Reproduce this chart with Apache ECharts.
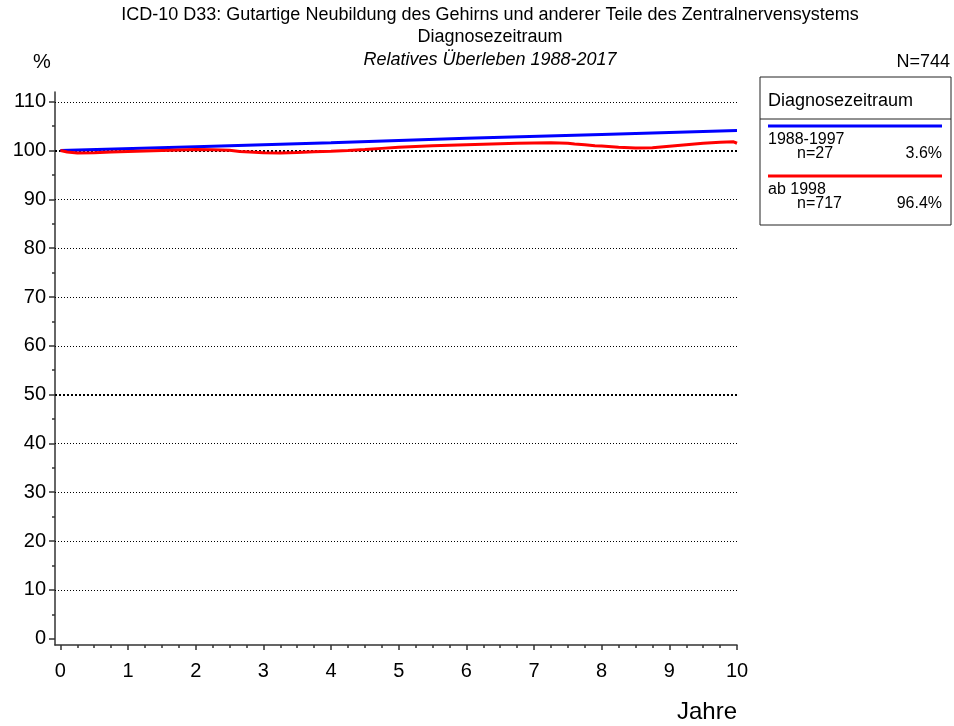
<!DOCTYPE html>
<html>
<head>
<meta charset="utf-8">
<script src="https://cdn.jsdelivr.net/npm/echarts@6/dist/echarts.min.js"></script>
<style>
  html, body { margin: 0; padding: 0; background: #fff; }
  #chart { width: 954px; height: 726px; }
</style>
</head>
<body>
<div id="chart"></div>
<script>
// years since diagnosis
const blueYears = [0, 2, 4, 6, 8, 10]
const blueValues = [100, 100.8, 101.6, 102.5, 103.3, 104.1]

const redYears = [0, 0.1, 0.25, 0.5, 0.75, 1, 1.25, 1.5, 1.75, 2, 2.25, 2.5, 2.65, 2.8, 3, 3.25, 3.5, 3.75, 4, 4.25, 4.5, 4.75, 5, 5.25, 5.5, 5.75, 6, 6.25, 6.5, 6.75, 7, 7.25, 7.5, 7.6, 7.75, 7.9, 8, 8.25, 8.5, 8.75, 9, 9.25, 9.5, 9.75, 9.95, 10]
const redValues = [100, 99.7, 99.5, 99.55, 99.7, 99.8, 99.9, 100.0, 100.1, 100.2, 100.15, 100.05, 99.8, 99.7, 99.55, 99.5, 99.6, 99.75, 99.85, 100.0, 100.2, 100.45, 100.7, 100.85, 101.0, 101.1, 101.2, 101.3, 101.4, 101.5, 101.55, 101.6, 101.5, 101.35, 101.2, 101.0, 100.95, 100.7, 100.55, 100.6, 100.9, 101.2, 101.5, 101.7, 101.8, 101.5]

const xTicks = [0, 1, 2, 3, 4, 5, 6, 7, 8, 9, 10]
const xMinorTicks = [0.25, 0.5, 0.75, 1.25, 1.5, 1.75, 2.25, 2.5, 2.75, 3.25, 3.5, 3.75, 4.25, 4.5, 4.75, 5.25, 5.5, 5.75, 6.25, 6.5, 6.75, 7.25, 7.5, 7.75, 8.25, 8.5, 8.75, 9.25, 9.5, 9.75]
const yTicks = [0, 10, 20, 30, 40, 50, 60, 70, 80, 90, 100, 110]
const yMinorTicks = [5, 15, 25, 35, 45, 55, 65, 75, 85, 95, 105]
const gridLines = [10, 20, 30, 40, 60, 70, 80, 90, 110]
const boldGridLines = [50, 100]

const legendItems = [
  { name: '1988-1997', n: 'n=27', pct: '3.6%', color: '#0000ff' },
  { name: 'ab 1998', n: 'n=717', pct: '96.4%', color: '#ff0000' }
]

const font = '"Liberation Sans", Arial, sans-serif'
const chart = echarts.init(document.getElementById('chart'))

const xMin = -0.08
const xMax = 10
const yMin = -1.3
const yMax = 112

function legendGraphics() {
  const left = 760
  const top = 77
  const w = 191
  const h = 148
  const els = [
    { type: 'rect', shape: { x: left, y: top, width: w, height: h }, style: { fill: '#fff', stroke: '#222', lineWidth: 1 } },
    { type: 'line', shape: { x1: left, y1: 119, x2: left + w, y2: 119 }, style: { stroke: '#222', lineWidth: 1 } },
    { type: 'text', x: 768, y: 101, style: { text: 'Diagnosezeitraum', font: '18px ' + font, fill: '#000', verticalAlign: 'middle' } }
  ]
  legendItems.forEach((it, i) => {
    const y0 = 126 + i * 50
    els.push({ type: 'line', shape: { x1: 768, y1: y0, x2: 942, y2: y0 }, style: { stroke: it.color, lineWidth: 3 } })
    els.push({ type: 'text', x: 768, y: y0 + 14, style: { text: it.name, font: '16px ' + font, fill: '#000', verticalAlign: 'middle' } })
    els.push({ type: 'text', x: 797, y: y0 + 28, style: { text: it.n, font: '16px ' + font, fill: '#000', verticalAlign: 'middle' } })
    els.push({ type: 'text', x: 942, y: y0 + 28, style: { text: it.pct, font: '16px ' + font, fill: '#000', align: 'right', verticalAlign: 'middle' } })
  })
  return els
}

const markLineData = gridLines.map(v => ({ yAxis: v, lineStyle: { type: [1, 2], width: 1 } }))
  .concat(boldGridLines.map(v => ({ yAxis: v, lineStyle: { type: [2, 2], width: 2 } })))

chart.setOption({
  animation: false,
  grid: { left: 55, right: 217, top: 92, bottom: 81 },
  xAxis: [{
    type: 'value',
    min: xMin,
    max: xMax,
    axisLine: { onZero: false, lineStyle: { color: '#333', width: 1.5 } },
    axisTick: { length: 5, customValues: xTicks, lineStyle: { color: '#333', width: 1.5 } },
    axisLabel: { customValues: xTicks, color: '#000', fontSize: 20, fontFamily: font, margin: 16 },
    splitLine: { show: false }
  }, {
    type: 'value',
    position: 'bottom',
    min: xMin,
    max: xMax,
    axisLine: { show: false, onZero: false },
    axisTick: { length: 3, customValues: xMinorTicks, lineStyle: { color: '#333', width: 1.5 } },
    axisLabel: { show: false },
    splitLine: { show: false }
  }],
  yAxis: [{
    type: 'value',
    min: yMin,
    max: yMax,
    axisLine: { show: true, onZero: false, lineStyle: { color: '#333', width: 1.5 } },
    axisTick: { show: true, length: 6, customValues: yTicks, lineStyle: { color: '#333', width: 1.5 } },
    axisLabel: { customValues: yTicks, color: '#000', fontSize: 20, fontFamily: font, margin: 9 },
    splitLine: { show: false }
  }, {
    type: 'value',
    position: 'left',
    min: yMin,
    max: yMax,
    axisLine: { show: false, onZero: false },
    axisTick: { show: true, length: 3, customValues: yMinorTicks, lineStyle: { color: '#333', width: 1.5 } },
    axisLabel: { show: false },
    splitLine: { show: false }
  }],
  graphic: [
    { type: 'text', x: 490, y: 15, style: { text: 'ICD-10 D33: Gutartige Neubildung des Gehirns und anderer Teile des Zentralnervensystems', font: '18px ' + font, fill: '#000', align: 'center', verticalAlign: 'middle' } },
    { type: 'text', x: 490, y: 37, style: { text: 'Diagnosezeitraum', font: '18px ' + font, fill: '#000', align: 'center', verticalAlign: 'middle' } },
    { type: 'text', x: 490, y: 60, style: { text: 'Relatives Überleben 1988-2017', font: 'italic 18px ' + font, fill: '#000', align: 'center', verticalAlign: 'middle' } },
    { type: 'text', x: 33, y: 62, style: { text: '%', font: '20px ' + font, fill: '#000', verticalAlign: 'middle' } },
    { type: 'text', x: 950, y: 62, style: { text: 'N=744', font: '18px ' + font, fill: '#000', align: 'right', verticalAlign: 'middle' } },
    { type: 'text', x: 737, y: 712, style: { text: 'Jahre', font: '24px ' + font, fill: '#000', align: 'right', verticalAlign: 'middle' } }
  ].concat(legendGraphics()),
  series: [{
    name: '1988-1997',
    type: 'line',
    showSymbol: false,
    z: 3,
    lineStyle: { color: '#0000ff', width: 3 },
    data: blueYears.map((x, i) => [x, blueValues[i]]),
    markLine: {
      silent: true,
      symbol: 'none',
      label: { show: false },
      lineStyle: { color: '#000' },
      z: 1,
      data: markLineData
    }
  }, {
    name: 'ab 1998',
    type: 'line',
    showSymbol: false,
    z: 4,
    lineStyle: { color: '#ff0000', width: 3 },
    data: redYears.map((x, i) => [x, redValues[i]])
  }]
})
</script>
</body>
</html>
